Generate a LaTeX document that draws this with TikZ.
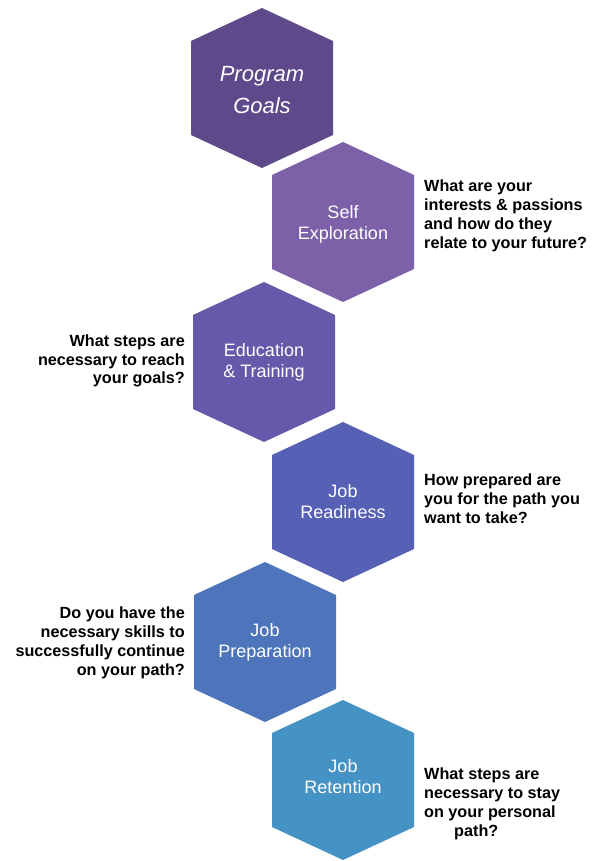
\documentclass[tikz,border=0pt]{standalone}
\usepackage{fontspec}
\setmainfont{Liberation Sans}
\usetikzlibrary{positioning}
\usepackage{xcolor}

\definecolor{goalcol}{RGB}{94,73,138}
\definecolor{selfcol}{RGB}{124,96,168}
\definecolor{educol}{RGB}{103,88,170}
\definecolor{readycol}{RGB}{86,96,180}
\definecolor{prepcol}{RGB}{78,117,187}
\definecolor{retaincol}{RGB}{69,146,197}

\begin{document}
\begin{tikzpicture}[x=1pt, y=-1pt,
    hexlabel/.style={
        align=center,
        text=white,
        inner sep=0pt,
        font=\fontsize{18}{21}\selectfont
    },
    question/.style={
        inner sep=0pt,
        font=\fontsize{16.2}{18.8}\selectfont\bfseries
    }]
    \useasboundingbox (0,0) rectangle (594,861);

    \coordinate (goals) at (262, 88);
    \coordinate (self) at (343, 222);
    \coordinate (education) at (264, 362);
    \coordinate (readiness) at (343, 502);
    \coordinate (preparation) at (265, 642);
    \coordinate (retention) at (343, 780);

    \fill[goalcol] (goals) +(0,-80) -- +(71,-47) -- +(71,47) -- +(0,80) -- +(-71,47) -- +(-71,-47) -- cycle;
    \fill[selfcol] (self) +(0,-80) -- +(71,-47) -- +(71,47) -- +(0,80) -- +(-71,47) -- +(-71,-47) -- cycle;
    \fill[educol] (education) +(0,-80) -- +(71,-47) -- +(71,47) -- +(0,80) -- +(-71,47) -- +(-71,-47) -- cycle;
    \fill[readycol] (readiness) +(0,-80) -- +(71,-47) -- +(71,47) -- +(0,80) -- +(-71,47) -- +(-71,-47) -- cycle;
    \fill[prepcol] (preparation) +(0,-80) -- +(71,-47) -- +(71,47) -- +(0,80) -- +(-71,47) -- +(-71,-47) -- cycle;
    \fill[retaincol] (retention) +(0,-80) -- +(71,-47) -- +(71,47) -- +(0,80) -- +(-71,47) -- +(-71,-47) -- cycle;

    \node (goals_text) [hexlabel, font=\fontsize{22}{32}\selectfont\itshape] at ([yshift=-2]goals)
    {
        Program\\Goals
    };
    \node (self_text) [hexlabel] at ([yshift=-2]self)
    {
        Self\\Exploration
    };
    \node (education_text) [hexlabel] at (education)
    {
        Education\\\& Training
    };
    \node (readiness_text) [hexlabel] at (readiness)
    {
        Job\\Readiness
    };
    \node (preparation_text) [hexlabel] at (preparation)
    {
        Job\\Preparation
    };
    \node (retention_text) [hexlabel] at ([yshift=3]retention)
    {
        Job\\Retention
    };

    \node (self_question) [question, align=left, anchor=west] at (424, 216)
    {
        What are your\\interests \& passions\\and how do they\\relate to your future?
    };
    \node (education_question) [question, align=right, anchor=east] at (185, 361)
    {
        What steps are\\necessary to reach\\your goals?
    };
    \node (readiness_question) [question, align=left, anchor=west] at (424, 499)
    {
        How prepared are\\you for the path you\\want to take?
    };
    \node (preparation_question) [question, align=right, anchor=east] at (185, 643)
    {
        Do you have the\\necessary skills to\\successfully continue\\on your path?
    };
    \node (retention_question) [question, align=left, anchor=west] at (424, 804)
    {
        What steps are\\necessary to stay\\on your personal\\\hspace*{30pt}path?
    };
\end{tikzpicture}
\end{document}
